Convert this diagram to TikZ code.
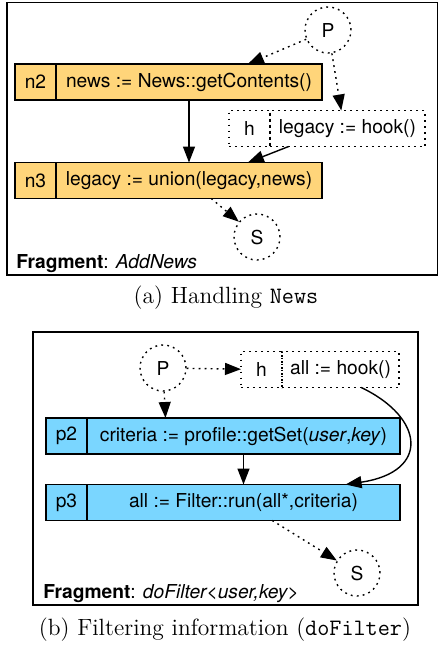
\documentclass[tikz,border=0pt]{standalone}
\usepackage{fontspec}
\usepackage{tikz}
\usetikzlibrary{arrows.meta,positioning}
\newfontfamily\helv{TeX Gyre Heros}
\definecolor{stmtorange}{RGB}{255,213,122}
\definecolor{stmtblue}{RGB}{122,214,255}

\begin{document}
\begin{tikzpicture}[x=0.5pt,y=-0.5pt,
        every node/.style={font=\helv\fontsize{9.6}{11.5}\selectfont},
        idbox/.style={draw, line width=0.6pt, outer sep=0pt, inner sep=0pt, minimum height=18pt, minimum width=20.5pt},
        stmtbox/.style={draw, line width=0.6pt, outer sep=0pt, inner sep=0pt, minimum height=18pt},
        dots/.style={dash pattern=on 0.9pt off 2.1pt},
        state/.style={circle, draw, dots, line width=0.7pt, inner sep=0pt, minimum size=23pt},
        flow/.style={line width=0.7pt, -{Triangle[length=8pt,width=6pt]}},
        subcap/.style={font=\fontsize{11.75}{14}\selectfont}]

        \useasboundingbox (0,0) rectangle (439,650);

        % (a) AddNews
        \draw[line width=0.8pt] (7,2.5) rectangle (437.5,275);
        \node[state] (P1) at (328,30) {P};
        \node[idbox, fill=stmtorange, anchor=west] (n2) at (15,82) {n2};
        \node[stmtbox, fill=stmtorange, minimum width=133pt, right=0pt of n2] (n2s) {news := News::getContents()};
        \node[idbox, dots, line width=0.7pt, anchor=west] (h1) at (229,128.5) {h};
        \node[stmtbox, dots, line width=0.7pt, minimum width=77.5pt, right=0pt of h1] (h1s) {legacy := hook()};
        \node[idbox, fill=stmtorange, anchor=west] (n3) at (15,180.5) {n3};
        \node[stmtbox, fill=stmtorange, minimum width=133pt, right=0pt of n3] (n3s) {legacy := union(legacy,news)};
        \node[state] (S1) at (257,237) {S};
        \node[anchor=base west, inner sep=0pt] (frag1) at (16,268) {\textbf{Fragment}: \textit{AddNews}};

        \draw[flow, dots] (P1) -- (n2s.17);
        \draw[flow, dots] (P1) -- (h1s.109);
        \draw[flow] (n2s) -- (n3s);
        \draw[flow] (h1s.197) -- (n3s.17);
        \draw[flow, dots] (n3s.-39) -- (S1);

        \node[subcap] (capa) at (226,298) {(a) Handling \texttt{News}};

        % (b) doFilter
        \draw[line width=0.8pt] (33,332) rectangle (418,605);
        \node[state] (P2) at (163,368) {P};
        \node[idbox, dots, line width=0.7pt, anchor=west] (h2) at (241,369.5) {h};
        \node[stmtbox, dots, line width=0.7pt, minimum width=58.5pt, right=0pt of h2] (h2s) {all := hook()};
        \node[idbox, fill=stmtblue, anchor=west] (p2) at (46,436) {p2};
        \node[stmtbox, fill=stmtblue, minimum width=156.5pt, right=0pt of p2] (p2s) {criteria := profile::getSet(\textit{user},\textit{key})};
        \node[idbox, fill=stmtblue, anchor=west] (p3) at (46,502.5) {p3};
        \node[stmtbox, fill=stmtblue, minimum width=156.5pt, right=0pt of p3] (p3s) {all := Filter::run(all*,criteria)};
        \node[state] (S2) at (357,573) {S};
        \node[anchor=base west, inner sep=0pt] (frag2) at (43,598) {\textbf{Fragment}: \textit{doFilter\textless user,key\textgreater}};

        \draw[flow, dots] (P2) -- (h2);
        \draw[flow, dots] (P2) -- (p2s.167);
        \draw[flow] (p2s) -- (p3s);
        \draw[flow] (h2s.-41) .. controls (425,418) and (430,472) .. (p3s.10);
        \draw[flow, dots] (p3s.-32) -- (S2);

        \node[subcap] (capb) at (225,630) {(b) Filtering information (\texttt{doFilter})};

    \end{tikzpicture}
\end{document}
